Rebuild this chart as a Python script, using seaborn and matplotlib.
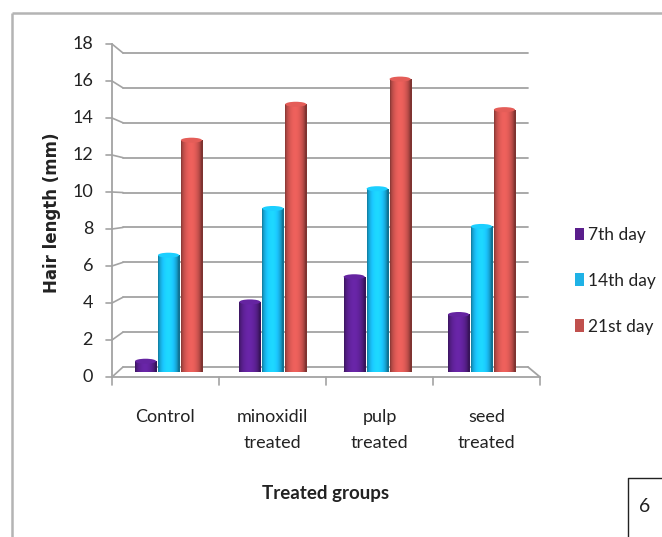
import numpy as np
import pandas as pd
import matplotlib
matplotlib.use("Agg")
import matplotlib.pyplot as plt
from matplotlib.patches import Rectangle, Ellipse
import seaborn as sns

# ---- data -------------------------------------------------------------
groups = ["Control", "minoxidil\ntreated", "pulp\ntreated", "seed\ntreated"]
days = ["7th day", "14th day", "21st day"]
day7 = [0.6, 3.9, 5.3, 3.2]
day14 = [6.5, 9.1, 10.2, 8.1]
day21 = [12.9, 14.9, 16.3, 14.6]
y_ticks = [0, 2, 4, 6, 8, 10, 12, 14, 16, 18]

bar_colors = ["#5a2090", "#19b9ee", "#cc534f"]
legend_colors = ["#5a1e8c", "#1fb2e6", "#c0504d"]

df = pd.DataFrame({
    "group": groups * 3,
    "day": [d for d in days for _ in groups],
    "length": day7 + day14 + day21,
})

# ---- figure -----------------------------------------------------------
sns.set_style("white")
FONT = ["Lato", "DejaVu Sans"]
plt.rcParams["font.family"] = FONT

W, H = 662, 537
fig = plt.figure(figsize=(W / 100, H / 100), dpi=100)
fig.patch.set_facecolor("white")


def box(l, t, r, b):
    return [l / W, 1 - b / H, (r - l) / W, (b - t) / H]


GRID = "#a3a3a3"
INK = "#222222"

# overlay in pixel coordinates for the perspective frame
ov = fig.add_axes([0, 0, 1, 1], zorder=0)
ov.set_xlim(0, W)
ov.set_ylim(H, 0)
ov.axis("off")

# outer frame of the chart area
ov.plot([12, 12], [H + 5, 13], color="#b4b4b4", lw=1.8, solid_capstyle="butt")
ov.plot([12, W + 5], [13, 13], color="#b4b4b4", lw=1.8, solid_capstyle="butt")

# front and back wall scales
F0, FS = 377.0, (377.0 - 44.0) / 18.0
B0, BS = 367.0, (367.0 - 53.0) / 18.0
FL, FR = 112.0, 540.0
BL, BR = 123.0, 528.0

for v in y_ticks:
    yf = F0 - v * FS
    yb = B0 - v * BS
    ov.plot([FL - 6, FL], [yf, yf], color=GRID, lw=1.2)
    ov.plot([FL, BL], [yf, yb], color=GRID, lw=1.2)
    ov.plot([BL, BR], [yb, yb], color=GRID, lw=1.3)
    ov.text(FL - 19, yf, str(v), ha="right", va="center",
            fontsize=13, color=INK)

# left wall edge and floor
ov.plot([FL, FL], [F0 - 18 * FS, F0], color=GRID, lw=1.3)
ov.plot([FL, FR], [F0, F0], color=GRID, lw=1.3)
ov.plot([FR, BR], [F0, B0], color=GRID, lw=1.3)
for k in range(5):
    x = FL + k * (FR - FL) / 4
    ov.plot([x, x], [F0, F0 + 8], color=GRID, lw=1.2)

# ---- bars -------------------------------------------------------------
CX0, CSP = 168.5, 104.33
BY0, BYS = 372.0, 17.97
ax = fig.add_axes(box(CX0 - 0.5 * CSP, BY0 - 18 * BYS, CX0 + 3.5 * CSP, BY0),
                  zorder=2)
ax.patch.set_alpha(0)
sns.barplot(data=df, x="group", y="length", hue="day", hue_order=days,
            order=groups, palette=bar_colors, width=0.66, gap=0.08,
            saturation=1, linewidth=0, legend=False, ax=ax)
ax.set_xlim(-0.5, 3.5)
ax.set_ylim(0, 18)
ax.axis("off")

# cylinder-like shading across each bar, with elliptical ends
t = np.linspace(0, 1, 64)
profile = 0.62 + 0.55 * np.clip(np.sin(np.pi * np.clip(t * 1.08, 0, 1)), 0, 1) ** 0.6
for bar in list(ax.patches):
    x0, y0 = bar.get_x(), bar.get_y()
    w, h = bar.get_width(), bar.get_height()
    base = np.array(matplotlib.colors.to_rgb(bar.get_facecolor()))
    grad = np.clip(base[None, None, :] * profile[None, :, None], 0, 1)
    im = ax.imshow(grad, extent=[x0, x0 + w, y0, y0 + h], aspect="auto",
                   interpolation="bilinear", zorder=3)
    im.set_clip_path(bar)
    cap_h = 5.0 / BYS
    ax.add_patch(Ellipse((x0 + w / 2, y0 + h), w, cap_h,
                         facecolor=np.clip(base * 1.12, 0, 1),
                         edgecolor="none", zorder=4))
    ax.add_patch(Ellipse((x0 + w / 2, y0), w, cap_h,
                         facecolor=np.clip(base * 0.95, 0, 1),
                         edgecolor="none", zorder=2.5))
ax.set_xlim(-0.5, 3.5)
ax.set_ylim(0, 18)

# ---- category labels and titles ---------------------------------------
for i, g in enumerate(groups):
    xc = FL + (i + 0.5) * (FR - FL) / 4
    ov.text(xc, 409, g, ha="center", va="top", fontsize=13,
            color=INK, linespacing=1.75)

ov.text(326, 494, "Treated groups", ha="center", va="center",
        fontsize=13.5, fontweight="bold", color=INK)
ov.text(52, 213, "Hair length (mm)", ha="center", va="center", rotation=90,
        fontsize=12, fontweight="bold", color=INK, family="DejaVu Sans")

# ---- legend -----------------------------------------------------------
handles = [Rectangle((0, 0), 1, 1, facecolor=c, edgecolor="none")
           for c in legend_colors]
leg = fig.legend(handles, days, loc="upper left",
                 bbox_to_anchor=(575 / W, 1 - 227 / H), frameon=False,
                 fontsize=12.5, handlelength=0.5, handleheight=0.75,
                 handletextpad=0.25, labelspacing=1.72, borderpad=0,
                 borderaxespad=0)
for txt in leg.get_texts():
    txt.set_color(INK)

# ---- panel number box -------------------------------------------------
ov.plot([628, 628, W + 5], [H + 5, 478, 478], color=INK, lw=1.0)
ov.text(645, 506, "6", ha="center", va="center", fontsize=14, color=INK)

fig.savefig("out.png", dpi=100, facecolor="white")
